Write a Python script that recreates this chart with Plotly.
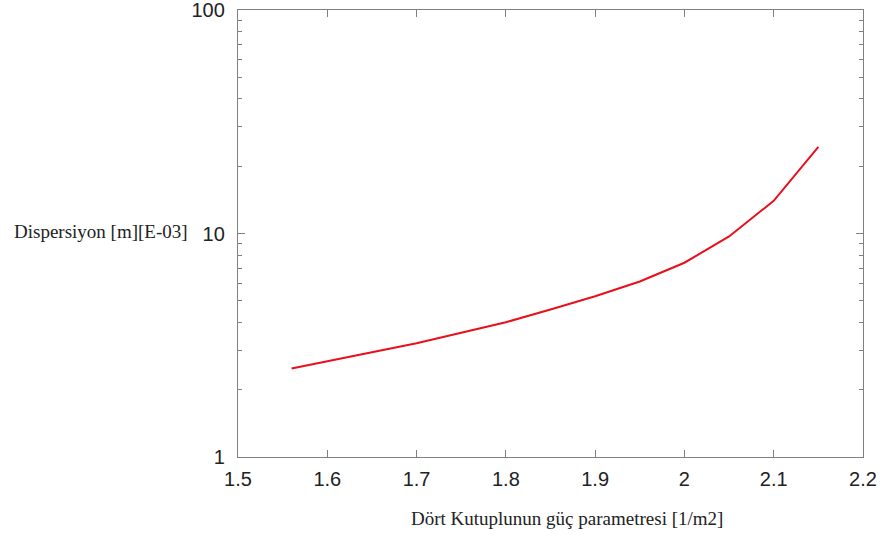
import plotly.graph_objects as go

x_vals = [1.56, 1.60, 1.65, 1.70, 1.75, 1.80, 1.85, 1.90, 1.95, 2.00, 2.05, 2.10, 2.15]
y_vals = [2.49, 2.69, 2.94, 3.23, 3.60, 4.01, 4.57, 5.24, 6.10, 7.40, 9.70, 14.0, 24.4]
x_ticks = [1.5, 1.6, 1.7, 1.8, 1.9, 2.0, 2.1, 2.2]
x_tick_text = ["1.5", "1.6", "1.7", "1.8", "1.9", "2", "2.1", "2.2"]
y_ticks = [1, 10, 100]
y_tick_text = ["1", "10", "100"]
x_title = "Dört Kutuplunun güç parametresi [1/m2]"
y_title = "Dispersiyon [m][E-03]"

W, H = 889, 535
l, r, t, b = 238, 26, 10, 78
pw, ph = W - l - r, H - t - b

fig = go.Figure()
fig.add_trace(go.Scatter(x=x_vals, y=y_vals, mode="lines",
                         line=dict(color="#e8101a", width=2), showlegend=False))

axis_color = "#808080"
tick_font = dict(family="Liberation Sans, Arial", size=20, color="#222222")
title_font = dict(family="Liberation Serif, Times New Roman", size=19, color="#222222")

fig.update_layout(
    width=W, height=H,
    margin=dict(l=l, r=r, t=t, b=b),
    paper_bgcolor="white", plot_bgcolor="white",
    xaxis=dict(range=[1.5, 2.2], tickvals=x_ticks, ticktext=x_tick_text,
               ticks="inside", ticklen=7, tickwidth=1.2, tickcolor=axis_color,
               showline=True, linecolor=axis_color, linewidth=1.3, mirror="ticks",
               showgrid=False, zeroline=False, tickfont=tick_font,
               automargin=False, ticklabelstandoff=4, ticklabeloverflow="allow"),
    yaxis=dict(type="log", range=[0, 2], tickvals=y_ticks, ticktext=y_tick_text,
               ticks="inside", ticklen=7, tickwidth=1.2, tickcolor=axis_color,
               showline=True, linecolor=axis_color, linewidth=1.3, mirror="ticks",
               showgrid=False, zeroline=False, tickfont=tick_font,
               automargin=False, ticklabelstandoff=8, ticklabeloverflow="allow",
               minor=dict(ticks="inside", ticklen=4, tickwidth=1.2, tickcolor=axis_color,
                          dtick="D1", showgrid=False)),
    annotations=[
        dict(text=y_title, x=(12 - l) / pw, y=(H - b - 232) / ph, xref="paper", yref="paper",
             xanchor="left", yanchor="middle", showarrow=False, font=title_font),
        dict(text=x_title, x=(567 - l) / pw, y=(H - b - 518) / ph, xref="paper", yref="paper",
             xanchor="center", yanchor="middle", showarrow=False, font=title_font),
    ],
)

fig.write_html("out.html")
